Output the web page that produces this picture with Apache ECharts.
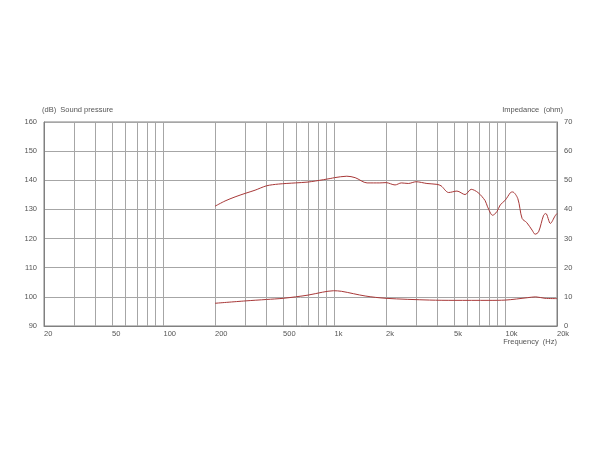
<!DOCTYPE html>
<html><head><meta charset="utf-8">
<script src="https://cdn.jsdelivr.net/npm/echarts@6/dist/echarts.min.js"></script>
<style>html,body{margin:0;padding:0;background:#fff}#c{width:600px;height:450px}</style>
</head><body><div id="c"></div>
<script>
// Sound pressure (dB) vs frequency (Hz)
const splFreq = [200,229,262,300,343,400,470,590,700,860,943,1000,1180,1320,1550,1840,2000,2260,2460,2700,3000,3470,3970,4200,4650,5200,5800,6300,6900,7600,7850,8400,8900,9300,9970,10700,11000,11800,12500,13300,14300,14900,15600,16700,17200,18300,19500,20000];
const splDb   = [131.1,132.9,134.3,135.5,136.6,138.1,138.7,139.1,139.4,140.2,140.6,140.9,141.4,140.9,139.1,139.1,139.2,138.4,139.1,138.9,139.5,138.9,138.6,138.1,135.8,136.3,135.1,136.9,135.8,133.0,130.9,128.0,129.2,131.5,133.2,135.8,136.0,133.7,126.9,125.5,122.9,121.5,122.3,128.0,128.6,125.2,127.8,128.6];
// Impedance (ohm) vs frequency (Hz)
const impFreq = [200,300,400,500,700,850,986,1100,1510,2000,3600,5000,8000,10000,13400,15000,17000,20000];
const impOhm  = [7.8,8.6,9.1,9.5,10.6,11.6,12.1,11.9,10.3,9.5,8.9,8.8,8.8,8.9,9.7,10.0,9.5,9.4];
// Axes
const xGridValues = [30,40,50,60,70,80,90,100,200,300,400,500,600,700,800,900,1000,2000,3000,4000,5000,6000,7000,8000,9000,10000];
const xLabelValues = [20,50,100,200,500,1000,2000,5000,10000,20000];
const xLabelTexts = ['20','50','100','200','500','1k','2k','5k','10k','20k'];
const leftRange = [90,160];
const rightRange = [0,70];
const titles = {left:'(dB)  Sound pressure', right:'Impedance  (ohm)', x:'Frequency  (Hz)'};

const FONT = 'Liberation Sans, Arial, sans-serif';
const gridColor = '#a6a6a6';
const frameColor = '#808080';
const textColor = '#555';
const curveColor = '#a83838';

const chart = echarts.init(document.getElementById('c'), null, {renderer:'canvas'});
chart.setOption({
  animation:false,
  backgroundColor:'#fff',
  grid:{left:44, right:43, top:122, bottom:124, show:true, borderColor:frameColor, borderWidth:1, backgroundColor:'transparent'},
  xAxis:{
    type:'log', logBase:10, min:20, max:20000,
    axisLine:{show:true, lineStyle:{color:frameColor, width:1}},
    axisTick:{show:false, customValues:xGridValues},
    splitLine:{show:true, lineStyle:{color:gridColor, width:1}},
    minorSplitLine:{show:false},
    axisLabel:{customValues:xLabelValues, align:'left', margin:4, fontSize:7.5, fontFamily:FONT, color:textColor,
      formatter:function(v){ const i = xLabelValues.indexOf(Math.round(v)); return i>=0 ? xLabelTexts[i] : ''; }}
  },
  yAxis:[
    {type:'value', min:leftRange[0], max:leftRange[1], interval:10, position:'left',
     axisLine:{show:true, lineStyle:{color:frameColor}}, axisTick:{show:false},
     splitLine:{show:true, lineStyle:{color:gridColor, width:1}},
     axisLabel:{margin:7, fontSize:7.5, fontFamily:FONT, color:textColor}},
    {type:'value', min:rightRange[0], max:rightRange[1], interval:10, position:'right',
     axisLine:{show:true, lineStyle:{color:frameColor}}, axisTick:{show:false},
     splitLine:{show:false},
     axisLabel:{margin:7, fontSize:7.5, fontFamily:FONT, color:textColor}}
  ],
  graphic:[
    {type:'text', left:42, top:106, style:{text:titles.left, font:'7.5px '+FONT, fill:textColor}},
    {type:'text', right:37, top:106, style:{text:titles.right, font:'7.5px '+FONT, fill:textColor}},
    {type:'text', right:43, top:338, style:{text:titles.x, font:'7.5px '+FONT, fill:textColor}}
  ],
  series:[
    {type:'line', yAxisIndex:0, showSymbol:false, smooth:0.3, lineStyle:{color:curveColor, width:1},
     data:splFreq.map((f,i)=>[f, splDb[i]])},
    {type:'line', yAxisIndex:1, showSymbol:false, smooth:0.3, lineStyle:{color:curveColor, width:1},
     data:impFreq.map((f,i)=>[f, impOhm[i]])}
  ]
});
</script></body></html>
